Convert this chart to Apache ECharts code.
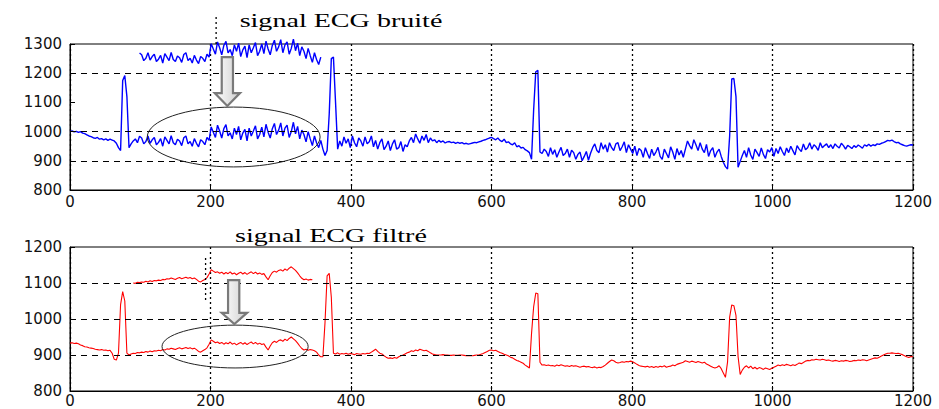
<!DOCTYPE html>
<html><head><meta charset="utf-8">
<script src="https://cdn.jsdelivr.net/npm/echarts@6/dist/echarts.min.js"></script>
<style>html,body{margin:0;padding:0;background:#fff}#c{width:939px;height:409px}</style>
</head><body><div id="c"></div>
<script>
// ---- data ----
const sampleStep = 3; // samples every 3 units of the x axis
const xTicks = [0, 200, 400, 600, 800, 1000, 1200];
const yTicksNoisy = [800, 900, 1000, 1100, 1200, 1300];
const yTicksFiltered = [800, 900, 1000, 1100, 1200];
const hGridNoisy = [900, 1000, 1200];
const hGridFiltered = [900, 1000, 1100];
const titleNoisy = 'signal ECG bruité';
const titleFiltered = 'signal ECG filtré';

const ecgNoisy = [
1000,1002,999,1001,997,1000,995,993,989,985,983,979,977,980,974,976,972,975,970,974,
971,968,960,945,935,1175,1192,1120,945,958,968,975,962,984,978,958,966,985,960,972,
980,955,963,976,950,982,970,958,986,962,955,974,968,952,979,985,958,966,950,976,
960,948,972,966,955,980,970,1016,998,980,1022,1002,978,1010,1024,985,996,975,1012,990,
1018,972,995,1008,968,1012,985,1002,1020,975,990,1015,982,1025,998,978,1010,1028,990,1005,
1030,985,1012,1022,980,1000,1032,992,1018,975,1005,990,965,1000,975,952,985,962,945,970,
940,918,935,1060,1250,1255,1100,940,968,950,982,960,975,945,985,962,948,978,968,950,
982,958,965,985,948,970,940,962,975,938,950,968,935,958,972,940,945,966,932,955,
948,968,980,962,992,975,960,985,970,990,962,978,968,972,962,970,964,968,961,965,
966,962,964,960,963,960,962,958,960,957,959,961,963,962,965,967,970,972,975,978,
980,976,972,978,970,966,974,962,965,958,955,962,948,952,944,946,938,934,928,905,
1075,1205,1210,930,925,940,932,915,945,922,938,912,930,946,918,925,940,912,936,928,
905,922,930,900,915,932,902,926,945,958,935,928,962,940,955,930,962,945,935,958,
962,935,948,965,928,955,940,925,950,918,942,935,912,945,925,908,940,918,930,946,
915,905,940,925,910,948,930,905,942,920,935,912,940,968,952,940,972,955,935,962,
940,928,956,915,935,945,912,930,940,915,895,880,872,985,1180,1182,1120,878,898,918,
935,912,945,920,905,940,928,915,944,922,908,938,930,945,915,942,925,948,932,918,
944,928,950,935,920,952,940,932,958,938,945,962,940,955,948,936,962,945,952,958,
945,955,942,958,950,944,960,952,940,953,948,942,952,946,954,949,943,955,950,957,
950,955,952,958,956,960,962,966,970,968,971,966,962,963,958,955,952,950,953,955,
954
];

const ecgFiltered = [
933,934,932,933,931,928,926,923,922,920,919,918,916,915,914,915,913,914,912,913,
905,888,886,905,1040,1076,1050,905,900,903,905,904,907,906,908,907,910,908,911,909,
912,911,913,912,915,914,917,916,919,917,915,918,920,917,919,921,918,920,917,919,
915,910,908,912,915,920,930,942,938,934,936,932,935,930,934,931,936,930,933,928,
932,935,930,934,929,933,936,931,935,930,933,929,931,922,914,925,934,938,935,940,
942,938,944,940,946,950,945,940,933,925,918,914,916,913,915,914,912,908,900,895,
895,990,1120,1127,1060,905,903,906,902,904,903,905,902,904,903,901,904,903,902,904,
903,905,904,908,912,916,910,905,903,898,894,891,892,890,893,891,895,898,900,903,
906,908,912,910,914,912,916,914,912,913,910,906,903,901,900,900,900,901,900,900,
899,899,900,899,899,900,900,899,898,898,898,898,899,900,900,902,904,907,910,913,
914,912,913,910,907,905,902,900,898,894,892,888,885,883,880,877,872,868,864,960,
1034,1072,1070,880,872,873,871,872,870,871,869,872,870,873,871,869,870,868,871,869,
870,868,866,868,869,867,868,866,865,867,864,866,865,868,872,877,882,886,884,880,
878,879,881,880,882,881,883,881,878,874,871,869,868,867,869,866,868,865,868,866,
869,867,870,866,868,869,872,870,874,876,878,880,884,882,880,883,881,879,882,880,
878,880,875,872,869,866,864,866,870,862,850,838,880,1005,1039,1037,1010,895,846,858,
866,870,864,869,862,866,861,865,863,860,864,862,860,863,866,869,872,870,873,871,
874,872,870,873,871,874,878,876,879,883,885,884,887,886,888,887,886,888,887,885,
886,884,883,885,884,882,884,883,885,884,882,883,885,884,886,885,887,886,884,886,
888,890,892,891,894,897,900,903,905,905,906,905,904,905,903,901,898,895,893,896,
895
];

// the zoomed copies shown above each trace (same samples, shifted upward)
const insetNoisyRange = [99, 357];
const insetNoisyShift = 285;
const insetFilteredRange = [90, 345];
const insetFilteredShift = 195;

// annotation geometry in data units
const ellipseNoisy = {x0: 110, x1: 356, y0: 879, y1: 1084};
const ellipseFiltered = {x0: 131, x1: 339, y0: 864, y1: 983};
const arrowNoisy = {shaftL: 216, shaftR: 232, headL: 206, headR: 242, top: 1255, headStart: 1132, tip: 1088};
const arrowFiltered = {shaftL: 225, shaftR: 241, headL: 216, headR: 252, top: 1108, headStart: 1017, tip: 986};
const insetGridNoisy = {x: 208, y0: 1300, y1: 1395};
const insetGridFiltered = {x: 193, y0: 1053, y1: 1172};

// ---- build ----
const toPairs = arr => arr.map((v, i) => [i * sampleStep, v]);
const noisyPairs = toPairs(ecgNoisy);
const filteredPairs = toPairs(ecgFiltered);
const inset = (pairs, r, s) => pairs.filter(p => p[0] >= r[0] && p[0] <= r[1]).map(p => [p[0], p[1] + s]);

const chart = echarts.init(document.getElementById('c'), null, {renderer: 'svg'});
const labelFont = {fontFamily: 'DejaVu Sans', fontSize: 15, color: '#111', formatter: v => String(v)};
const gridLineStyle = {color: '#000', type: [6, 5], width: 1};

function xAxisFor(gi, margin) {
  return {
    type: 'value', gridIndex: gi,
    min: xTicks[0], max: xTicks[xTicks.length - 1], interval: xTicks[1] - xTicks[0],
    axisLine: {show: true, lineStyle: {color: '#000', width: 1}},
    axisTick: {show: true, inside: true, length: 5, lineStyle: {color: '#000'}},
    axisLabel: Object.assign({margin: margin, showMinLabel: true, showMaxLabel: true}, labelFont),
    splitLine: {show: true, lineStyle: {color: '#000', type: [2, 3], width: 1.3}}
  };
}
function yAxisFor(gi, ticks) {
  return {
    type: 'value', gridIndex: gi,
    min: ticks[0], max: ticks[ticks.length - 1], interval: ticks[1] - ticks[0],
    axisLine: {show: true, lineStyle: {color: '#000', width: 1}},
    axisTick: {show: true, inside: true, length: 5, lineStyle: {color: '#000'}},
    axisLabel: Object.assign({margin: 8, showMinLabel: true, showMaxLabel: true}, labelFont),
    splitLine: {show: false}
  };
}
function markLinesFor(vals) {
  return {silent: true, symbol: 'none', animation: false, label: {show: false},
          lineStyle: gridLineStyle, emphasis: {disabled: true},
          data: vals.map(v => ({yAxis: v}))};
}

const option = {
  animation: false,
  backgroundColor: '#fff',
  grid: [
    {left: 70, right: 26, top: 44, height: 146, show: true, borderColor: '#000', borderWidth: 1, containLabel: false, outerBoundsMode: 'none'},
    {left: 70, right: 26, top: 247, height: 144, show: true, borderColor: '#000', borderWidth: 1, containLabel: false, outerBoundsMode: 'none'}
  ],
  xAxis: [xAxisFor(0, 4), xAxisFor(1, 2)],
  yAxis: [yAxisFor(0, yTicksNoisy), yAxisFor(1, yTicksFiltered)],
  series: [
    {name: titleNoisy, type: 'line', xAxisIndex: 0, yAxisIndex: 0, data: noisyPairs,
     showSymbol: false, symbol: 'none', lineStyle: {color: '#0000ff', width: 1.4}, itemStyle: {color: '#0000ff'},
     markLine: markLinesFor(hGridNoisy), z: 3},
    {name: titleNoisy + ' (zoom)', type: 'line', xAxisIndex: 0, yAxisIndex: 0,
     data: inset(noisyPairs, insetNoisyRange, insetNoisyShift), clip: false,
     showSymbol: false, symbol: 'none', lineStyle: {color: '#0000ff', width: 1.4}, itemStyle: {color: '#0000ff'}, z: 3},
    {name: titleFiltered, type: 'line', xAxisIndex: 1, yAxisIndex: 1, data: filteredPairs,
     showSymbol: false, symbol: 'none', lineStyle: {color: '#ff0000', width: 1.1}, itemStyle: {color: '#ff0000'},
     markLine: markLinesFor(hGridFiltered), z: 3},
    {name: titleFiltered + ' (zoom)', type: 'line', xAxisIndex: 1, yAxisIndex: 1,
     data: inset(filteredPairs, insetFilteredRange, insetFilteredShift), clip: false,
     showSymbol: false, symbol: 'none', lineStyle: {color: '#ff0000', width: 1.1}, itemStyle: {color: '#ff0000'}, z: 3}
  ]
};
chart.setOption(option);

// ---- annotations ----
const P = (gi, d, v) => chart.convertToPixel({gridIndex: gi}, [d, v]);
function ellipseEl(gi, e) {
  const a = P(gi, e.x0, e.y1), b = P(gi, e.x1, e.y0);
  return {type: 'ellipse', z: 10, silent: true,
          shape: {cx: (a[0] + b[0]) / 2, cy: (a[1] + b[1]) / 2, rx: Math.abs(b[0] - a[0]) / 2, ry: Math.abs(b[1] - a[1]) / 2},
          style: {fill: 'none', stroke: '#222', lineWidth: 1}};
}
function arrowEl(gi, a) {
  const mid = (a.headL + a.headR) / 2;
  const pts = [[a.shaftL, a.top], [a.shaftR, a.top], [a.shaftR, a.headStart], [a.headR, a.headStart],
               [mid, a.tip], [a.headL, a.headStart], [a.shaftL, a.headStart]].map(p => P(gi, p[0], p[1]));
  return {type: 'polygon', z: 10, silent: true, shape: {points: pts},
          style: {fill: {type: 'linear', x: 0, y: 0, x2: 1, y2: 0,
                         colorStops: [{offset: 0, color: '#ffffff'}, {offset: 1, color: '#cfcfcf'}]},
                  stroke: '#7a7a7a', lineWidth: 2.2}};
}
function vDotEl(gi, g) {
  const a = P(gi, g.x, g.y0), b = P(gi, g.x, g.y1);
  return {type: 'line', z: 9, silent: true, shape: {x1: a[0], y1: a[1], x2: b[0], y2: b[1]},
          style: {stroke: '#000', lineWidth: 1.3, lineDash: [2, 3]}};
}
function titleEl(text, x, y) {
  return {type: 'text', x: x, y: y, scaleX: 1.56, z: 11, silent: true,
          style: {text: text, x: 0, y: 0, align: 'center', verticalAlign: 'middle',
                  font: '18px "Liberation Serif"', fill: '#000'}};
}
chart.setOption({
  graphic: [
    titleEl(titleNoisy, 341, 21),
    titleEl(titleFiltered, 331, 236),
    ellipseEl(0, ellipseNoisy),
    ellipseEl(1, ellipseFiltered),
    arrowEl(0, arrowNoisy),
    arrowEl(1, arrowFiltered),
    vDotEl(0, insetGridNoisy),
    vDotEl(1, insetGridFiltered)
  ]
});
</script>
</body></html>
